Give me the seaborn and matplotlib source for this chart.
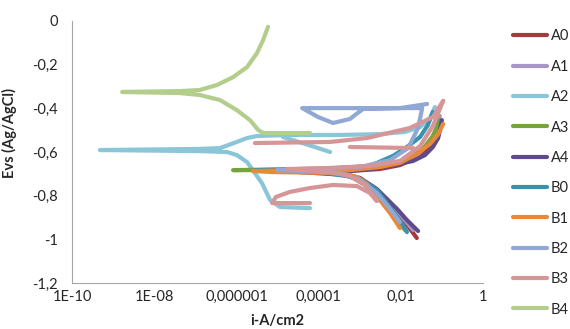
import numpy as np
import pandas as pd
import matplotlib
matplotlib.use("Agg")
import matplotlib.pyplot as plt
import seaborn as sns
from matplotlib.ticker import NullLocator

# series names and colours (legend order = drawing order)
series = ['A0', 'A1', 'A2', 'A3', 'A4', 'B0', 'B1', 'B2', 'B3', 'B4']
colors = ['#A33A3C', '#A597C9', '#8AC6D8', '#77A33D', '#5F4A8B',
          '#3593AE', '#E8883A', '#91A8D5', '#D69597', '#B3CE8C']

# log10(i) and E values, in sweep order
a0_logi = [-1.61, -1.90, -2.26, -2.63, -2.99, -3.48, -4.21, -3.24, -2.51, -2.02, -1.65, -1.34, -1.12, -1.00]
a0_e = [-0.994, -0.921, -0.838, -0.765, -0.719, -0.696, -0.692, -0.687, -0.678, -0.660, -0.628, -0.582, -0.527, -0.476]

a1_logi = [-1.70, -2.02, -2.34, -2.70, -3.07, -3.48, -4.57, -3.48, -2.63, -2.02, -1.58, -1.29, -1.12, -1.05]
a1_e = [-0.957, -0.884, -0.815, -0.756, -0.715, -0.696, -0.687, -0.683, -0.673, -0.650, -0.609, -0.554, -0.490, -0.435]

a2_logi = [-4.21, -4.94, -5.18, -5.38, -5.60, -5.74, -5.99, -6.23, -6.89, -9.32, -6.89, -6.40, -5.99,
           -5.74, -5.50, -4.77, -3.48, -2.51, -1.90, -1.53, -1.29, -1.17]
a2_e = [-0.857, -0.852, -0.820, -0.742, -0.683, -0.646, -0.614, -0.600, -0.596, -0.591, -0.586, -0.582, -0.554,
        -0.536, -0.527, -0.522, -0.522, -0.518, -0.508, -0.486, -0.444, -0.394]
a2_tail_logi = [-4.87, -4.33, -3.72]
a2_tail_e = [-0.531, -0.563, -0.600]

a3_logi = [-1.90, -2.14, -2.51, -2.87, -3.24, -3.72, -4.94, -6.08, -4.45, -3.24, -2.38, -1.90, -1.48, -1.22, -1.05]
a3_e = [-0.957, -0.893, -0.815, -0.751, -0.710, -0.692, -0.683, -0.683, -0.678, -0.673, -0.660, -0.637, -0.591, -0.527, -0.454]

a4_logi = [-1.58, -1.85, -2.09, -2.34, -2.58, -2.82, -3.36, -4.45, -3.24, -2.51, -1.70, -1.41, -1.22, -1.09, -1.05, -1.00]
a4_e = [-0.962, -0.912, -0.861, -0.815, -0.770, -0.742, -0.705, -0.692, -0.687, -0.673, -0.641, -0.614, -0.577, -0.536, -0.499, -0.454]

b0_logi = [-1.85, -1.97, -2.09, -2.34, -2.58, -2.87, -3.16, -3.97, -5.55, -3.97, -2.75, -2.19, -1.85, -1.53, -1.34, -1.22]
b0_e = [-0.967, -0.930, -0.898, -0.834, -0.774, -0.738, -0.715, -0.692, -0.683, -0.678, -0.664, -0.618, -0.577, -0.531, -0.476, -0.417]

b1_logi = [-2.02, -2.26, -2.51, -2.70, -2.82, -3.04, -3.24, -3.72, -5.11, -5.60, -4.45, -3.24, -2.51, -2.02, -1.61, -1.29, -1.09, -0.97]
b1_e = [-0.948, -0.880, -0.820, -0.774, -0.747, -0.719, -0.705, -0.696, -0.692, -0.687, -0.683, -0.683, -0.669, -0.650, -0.609, -0.563, -0.518, -0.472]

b2_logi = [-2.02, -2.26, -2.58, -2.99, -3.48, -4.45, -5.01, -3.97, -2.99, -2.26, -1.82, -1.58, -1.48,
           -2.02, -4.40, -4.01, -3.65, -3.24, -2.92, -2.02, -1.36]
b2_e = [-0.921, -0.861, -0.788, -0.728, -0.696, -0.687, -0.683, -0.678, -0.669, -0.637, -0.582, -0.490, -0.399,
        -0.399, -0.399, -0.440, -0.467, -0.449, -0.403, -0.399, -0.380]

b3_logi = [-4.21, -5.13, -5.04, -4.70, -4.21, -3.65, -3.07, -2.75, -2.58, -2.87, -3.24, -3.72, -4.77,
           -3.72, -2.75, -2.02, -1.53, -1.22, -0.97]
b3_e = [-0.834, -0.834, -0.806, -0.783, -0.765, -0.751, -0.756, -0.788, -0.825, -0.751, -0.710, -0.692, -0.678,
        -0.673, -0.664, -0.641, -0.573, -0.481, -0.366]
b3_back_logi = [-0.97, -1.22, -1.78, -2.82, -3.72, -5.55]
b3_back_e = [-0.366, -0.440, -0.490, -0.536, -0.554, -0.559]
b3_band_logi = [-3.24, -1.70]
b3_band_e = [-0.577, -0.582]

b4_logi = [-4.21, -5.35, -5.47, -5.67, -5.99, -6.40, -6.89, -7.37, -8.78, -7.37, -6.89, -6.47, -6.08,
           -5.74, -5.50, -5.35, -5.23]
b4_e = [-0.513, -0.513, -0.499, -0.454, -0.408, -0.362, -0.339, -0.330, -0.325, -0.321, -0.316, -0.293, -0.257,
        -0.211, -0.147, -0.087, -0.027]

curves = {
    'A0': [(a0_logi, a0_e)],
    'A1': [(a1_logi, a1_e)],
    'A2': [(a2_logi, a2_e), (a2_tail_logi, a2_tail_e)],
    'A3': [(a3_logi, a3_e)],
    'A4': [(a4_logi, a4_e)],
    'B0': [(b0_logi, b0_e)],
    'B1': [(b1_logi, b1_e)],
    'B2': [(b2_logi, b2_e)],
    'B3': [(b3_logi, b3_e), (b3_back_logi, b3_back_e), (b3_band_logi, b3_band_e)],
    'B4': [(b4_logi, b4_e)],
}

rows = []
for name, segs in curves.items():
    for k, (lg, ev) in enumerate(segs):
        for xv, yv in zip(lg, ev):
            rows.append({'series': name, 'seg': f'{name}_{k}', 'i': 10.0 ** xv, 'E': yv})
df = pd.DataFrame(rows)

sns.set_theme(style='white')
plt.rcParams['font.family'] = ['Lato', 'DejaVu Sans']
txt = '#262626'

fig = plt.figure(figsize=(5.7, 3.29), dpi=100)
ax = fig.add_axes([72 / 570, 1 - 283 / 329, 411 / 570, 262 / 329])
ax.set_xscale('log')

sns.lineplot(data=df, x='i', y='E', hue='series', hue_order=series, palette=colors,
             units='seg', estimator=None, sort=False, linewidth=3.0, ax=ax)

ax.set_xlim(1e-10, 1)
ax.set_ylim(-1.2, 0)
xt = [1e-10, 1e-8, 1e-6, 1e-4, 1e-2, 1]
ax.set_xticks(xt)
ax.set_xticklabels(['1E-10', '1E-08', '0,000001', '0,0001', '0,01', '1'])
ax.xaxis.set_minor_locator(NullLocator())
yt = [0, -0.2, -0.4, -0.6, -0.8, -1.0, -1.2]
ax.set_yticks(yt)
ax.set_yticklabels(['0', '-0,2', '-0,4', '-0,6', '-0,8', '-1', '-1,2'])
ax.tick_params(axis='y', length=0, pad=10, labelsize=10.5, labelcolor=txt)
ax.tick_params(axis='x', length=0, pad=5, labelsize=10.5, labelcolor=txt)

for s in ['top', 'right']:
    ax.spines[s].set_visible(False)
for s in ['left', 'bottom']:
    ax.spines[s].set_color('#A6A6A6')
    ax.spines[s].set_linewidth(0.8)

ax.set_xlabel('i-A/cm2', fontsize=10.5, fontweight='bold', color=txt, labelpad=7)
ax.set_ylabel('Evs (Ag/AgCl)', fontsize=10.5, fontweight='bold', color=txt)
ax.yaxis.set_label_coords(-0.134, 0.573)

handles, labels = ax.get_legend_handles_labels()
ax.get_legend().remove()
for h in handles:
    h.set_linewidth(3.0)
fig.legend(handles, labels, loc='center left', bbox_to_anchor=(513 / 570, 1 - 173 / 329),
           frameon=False, handlelength=2.3, handletextpad=0.3, labelspacing=1.12,
           borderpad=0, borderaxespad=0, fontsize=10.5, labelcolor=txt)

fig.savefig('out.png', dpi=100)
